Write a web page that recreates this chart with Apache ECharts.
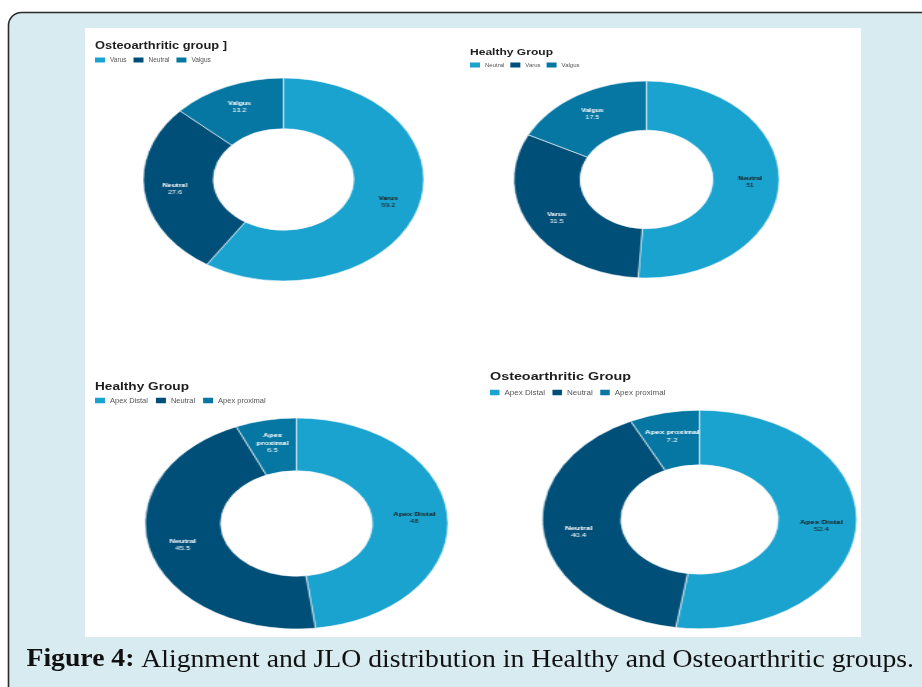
<!DOCTYPE html>
<html><head><meta charset="utf-8">
<script src="https://cdn.jsdelivr.net/npm/echarts@6/dist/echarts.min.js"></script>
<style>
html,body{margin:0;padding:0;background:#fff;overflow:hidden;}
#main{position:absolute;left:0;top:0;width:922px;height:687px;}
.pie{position:absolute;}
</style></head><body>
<div id="main"></div>
<div id="p0" class="pie"></div>
<div id="p1" class="pie"></div>
<div id="p2" class="pie"></div>
<div id="p3" class="pie"></div>
<script>
// ---- data ----
const alignCategoriesOA = ['Varus', 'Neutral', 'Valgus'];
const alignValuesOA = [59.2, 27.6, 13.2];
const alignCategoriesHealthy = ['Neutral', 'Varus', 'Valgus'];
const alignValuesHealthy = [51, 31.5, 17.5];
const jloCategories = ['Apex Distal', 'Neutral', 'Apex proximal'];
const jloValuesHealthy = [48, 45.5, 6.5];
const jloValuesOA = [52.4, 40.4, 7.2];
const chartTitles = ['Osteoarthritic group ]', 'Healthy Group', 'Healthy Group', 'Osteoarthritic Group'];
const captionBold = 'Figure 4:';
const captionText = ' Alignment and JLO distribution in Healthy and Osteoarthritic groups.';

// ---- styles ----
const COLORS = ['#1BA3CF', '#004F78', '#0677A3'];
const LABEL_COLORS = ['#1a1a1a', '#ffffff', '#ffffff'];
const SANS = '"Liberation Sans", Arial, sans-serif';
const SERIF = '"Liberation Serif", "Times New Roman", serif';

const panels = [
  {cats: alignCategoriesOA, vals: alignValuesOA, title: chartTitles[0],
   cx: 283, cy: 179, rx: 140.3, ry: 101.5,
   tx: 95, ty: 46.5, tfs: 10.2, tw: 132,
   lx: 95, ly: 56.5, lfs: 6.5, lgap: 7, iw: 10, ih: 5, lab: 5.2, wrap: false},
  {cats: alignCategoriesHealthy, vals: alignValuesHealthy, title: chartTitles[1],
   cx: 646.7, cy: 179.2, rx: 132.7, ry: 98.5,
   tx: 470, ty: 51.8, tfs: 9.8, tw: 83,
   lx: 470, ly: 62, lfs: 6, lgap: 6, iw: 10, ih: 5, lab: 5.2, wrap: false},
  {cats: jloCategories, vals: jloValuesHealthy, title: chartTitles[2],
   cx: 296.5, cy: 523.7, rx: 151.5, ry: 105.5,
   tx: 95, ty: 387.2, tfs: 10.4, tw: 94,
   lx: 95, ly: 396.5, lfs: 7.5, lgap: 8, iw: 10, ih: 5.5, lab: 5.4, wrap: true},
  {cats: jloCategories, vals: jloValuesOA, title: chartTitles[3],
   cx: 699, cy: 519.5, rx: 157.2, ry: 109.3,
   tx: 490, ty: 376.8, tfs: 11.2, tw: 141,
   lx: 490, ly: 388.5, lfs: 8, lgap: 7.5, iw: 9.5, ih: 5.5, lab: 5.5, wrap: false}
];

const mctx = document.createElement('canvas').getContext('2d');
function measure(font, text) { mctx.font = font; return mctx.measureText(text).width; }

// ---- main chart: frame, panel, titles, legends, caption ----
const main = echarts.init(document.getElementById('main'), null, {renderer: 'canvas'});
const graphics = [
  {type: 'rect', z: 0, shape: {x: 8.5, y: 12.5, width: 1000, height: 800, r: 13},
   style: {fill: '#D7EBF0', stroke: '#2a2a2a', lineWidth: 1.6}},
  {type: 'rect', z: 1, shape: {x: 85, y: 28, width: 776, height: 609},
   style: {fill: '#ffffff'}}
];
panels.forEach(p => {
  const font = 'bold ' + p.tfs + 'px ' + SANS;
  const w = measure(font, p.title);
  graphics.push({type: 'text', z: 5, x: p.tx, y: p.ty, scaleX: p.tw / w,
    style: {text: p.title, font: font, fill: '#1e1e1e', align: 'left', verticalAlign: 'middle'}});
});
const capFs = 25;
const capBoldFont = 'bold ' + capFs + 'px ' + SERIF;
const capFont = capFs + 'px ' + SERIF;
const capW = measure(capBoldFont, captionBold) + measure(capFont, captionText);
graphics.push({type: 'text', z: 5, x: 26.5, y: 660, scaleX: (914 - 26.5) / capW,
  style: {text: '{b|' + captionBold + '}' + captionText, font: capFont, fill: '#111',
    align: 'left', verticalAlign: 'middle',
    rich: {b: {font: capBoldFont, fill: '#111'}}}});

const legends = panels.map(p => ({
  left: p.lx, top: p.ly, padding: 0, orient: 'horizontal',
  icon: 'rect', itemWidth: p.iw, itemHeight: p.ih, itemGap: p.lgap,
  selectedMode: false,
  textStyle: {fontSize: p.lfs, color: '#555', fontFamily: SANS},
  data: p.cats.map((c, i) => ({name: c, itemStyle: {color: COLORS[i]}}))
}));
// legend carriers (zero-size, not visible)
const legendSeries = panels.map((p, k) => ({
  type: 'pie', radius: [0, 0], center: [-100, -100], silent: true,
  label: {show: false}, labelLine: {show: false},
  data: p.cats.map((c, i) => ({name: c, value: p.vals[i], itemStyle: {color: COLORS[i]}}))
}));
main.setOption({
  animation: false,
  legend: legends,
  graphic: graphics,
  series: legendSeries
});

// ---- pies (elliptical via horizontal scale of each pie's own chart) ----
panels.forEach((p, k) => {
  const S = Math.ceil(2 * p.ry + 24);
  const el = document.getElementById('p' + k);
  el.style.width = S + 'px';
  el.style.height = S + 'px';
  el.style.left = (p.cx - S / 2) + 'px';
  el.style.top = (p.cy - S / 2) + 'px';
  el.style.transformOrigin = '50% 50%';
  el.style.transform = 'scaleX(' + (p.rx / p.ry) + ')';
  const ch = echarts.init(el, null, {renderer: 'canvas'});
  const lh = p.lab * 1.35;
  ch.setOption({
    animation: false,
    series: [{
      type: 'pie',
      center: ['50%', '50%'],
      radius: [p.ry * 0.5, p.ry],
      startAngle: 90,
      clockwise: true,
      avoidLabelOverlap: false,
      itemStyle: {borderColor: '#ffffff', borderWidth: 0.6},
      labelLine: {show: false},
      emphasis: {disabled: true},
      label: {
        show: true, position: 'inside', fontFamily: SANS,
        formatter: (d) => {
          const nm = (p.wrap && d.dataIndex === 2) ? d.name.split(' ').map(s => '{n|' + s + '}').join('\n') : '{n|' + d.name + '}';
          return nm + '\n{v|' + d.value + '}';
        },
        rich: {
          n: {fontWeight: 'bold', fontSize: p.lab, lineHeight: lh, fontFamily: SANS},
          v: {fontSize: p.lab, lineHeight: lh, fontFamily: SANS}
        }
      },
      data: p.cats.map((c, i) => ({
        name: c, value: p.vals[i],
        itemStyle: {color: COLORS[i]},
        label: {color: LABEL_COLORS[i]}
      }))
    }]
  });
});
</script>
</body></html>
